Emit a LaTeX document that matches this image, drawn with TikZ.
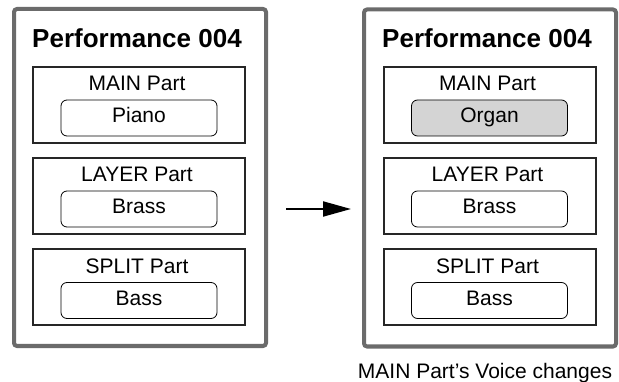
\documentclass[tikz,border=0pt]{standalone}
\usepackage{fontspec}
\setmainfont{Liberation Sans}
\usetikzlibrary{arrows.meta,positioning}

\begin{document}
\begin{tikzpicture}[x=1pt, y=-1pt,
    perf/.style={draw=black!58, line width=4pt, rounded corners=3pt, minimum width=252pt, minimum height=337pt, inner sep=0pt},
    part/.style={draw=black!85, line width=2pt, minimum width=212pt, minimum height=76pt, inner sep=0pt},
    voice/.style={draw, line width=0.8pt, rounded corners=6pt, minimum width=156pt, minimum height=36pt, inner sep=0pt, text height=15pt, text depth=5pt},
    title/.style={anchor=base, font=\bfseries\fontsize{26}{26}\selectfont},
    lbl/.style={anchor=base, font=\fontsize{21}{21}\selectfont}]
    \useasboundingbox (0,0) rectangle (619,382);
    \tikzset{every node/.append style={font=\fontsize{21}{21}\selectfont}}

    % before
    \node[perf] (perfL) at (140,177.5) {};
    \node[title] (titleL) at (137,48) {Performance 004};
    \node[part] (mainL) at (139,105) {};
    \node[lbl] at (137,91) {MAIN Part};
    \node[voice] (voiceMainL) at (139,118) {Piano};
    \node[part] (layerL) at (139,196) {};
    \node[lbl] at (137,182) {LAYER Part};
    \node[voice] (voiceLayerL) at (139,209) {Brass};
    \node[part] (splitL) at (139,287.5) {};
    \node[lbl] at (137,273.5) {SPLIT Part};
    \node[voice] (voiceSplitL) at (139,300.5) {Bass};

    % after
    \node[perf] (perfR) at (490,178) {};
    \node[title] (titleR) at (487,48) {Performance 004};
    \node[part] (mainR) at (489.5,105) {};
    \node[lbl] at (487.5,91) {MAIN Part};
    \node[voice, fill=black!17] (voiceMainR) at (489.5,118) {Organ};
    \node[part] (layerR) at (489.5,196) {};
    \node[lbl] at (487.5,182) {LAYER Part};
    \node[voice] (voiceLayerR) at (489.5,209) {Brass};
    \node[part] (splitR) at (489.5,287.5) {};
    \node[lbl] at (487.5,273.5) {SPLIT Part};
    \node[voice] (voiceSplitR) at (489.5,300.5) {Bass};

    \node[below=11pt of perfR, xshift=-5pt] (note) {MAIN Part’s Voice changes};

    \draw[line width=2pt, -{Triangle[length=28pt,width=15pt]}, shorten <=18pt, shorten >=11pt]
        ([yshift=-31.5pt]perfL.east) -- ([yshift=-31pt]perfR.west);
\end{tikzpicture}
\end{document}
